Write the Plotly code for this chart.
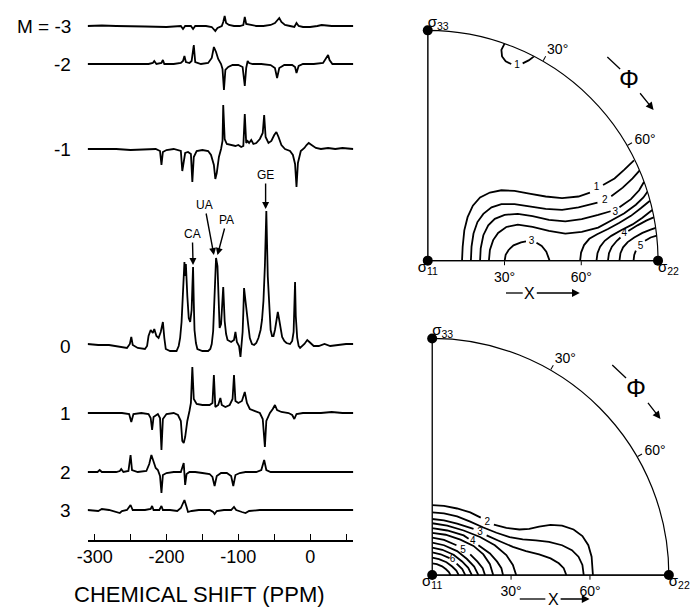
import math
import plotly.graph_objects as go

# ---------------- DATA ----------------
# Left panel: spectra for each M, vertices (chemical shift ppm, relative intensity)
M_labels = ["M = -3", "-2", "-1", "0", "1", "2", "3"]

spec_m3 = [(-310,0),(-290,0.5),(-270,0),(-250,0),(-230,-0.5),(-200,-1),(-180,0),(-177,-3),(-174,0),(-166,0),(-163,-3),(-160,0),
           (-145,0),(-137,-1),(-134,-4),(-132,-5),(-129,-2),(-123,0),(-121,4),(-119,10),(-117,3),(-113,1),(-106,0),(-98,0),(-93,1),
           (-91,9),(-89,2),(-83,1),(-75,0),(-65,0),(-55,1),(-49,3),(-46,6),(-43,8),(-40,4),(-35,1),(-28,0),(-22,-1),(-19,3),(-16,0),
           (-10,-1),(0,-1),(10,0),(16,1),(30,0),(45,0),(60,0)]
spec_m2 = [(-310,0),(-280,0),(-260,0),(-240,0.5),(-225,0),(-219,1),(-217,3),(-214,0),(-207,1),(-205,4),(-203,0),(-190,0),(-180,1),
           (-177,3),(-175,8),(-173,2),(-168,1),(-165,3),(-162,19),(-160,2),(-152,0),(-142,1),(-137,6),(-134,17),(-131,12),(-128,5),
           (-124,0),(-122,-5),(-120,-26),(-118,-6),(-114,-3),(-108,-1),(-100,-1),(-94,-3),(-91,-22),(-89,-4),(-87,3),(-85,1),(-80,0),
           (-68,0),(-55,-1),(-49,-4),(-46,-14),(-43,-4),(-36,-1),(-25,-1),(-21,-3),(-19,-9),(-16,-2),(-10,0),(5,0),(18,1),(22,5),
           (25,9),(27,4),(31,0),(45,0),(60,0)]
spec_m1 = [(-310,0),(-270,0),(-250,-1),(-230,0),(-215,0),(-209,-2),(-207,-16),(-205,-3),(-200,-1),(-190,0),(-180,-2),(-178,-22),
           (-176,-10),(-174,-4),(-170,-3),(-166,-5),(-164,-33),(-162,-8),(-158,-2),(-150,-1),(-142,-2),(-138,-6),(-134,-16),
           (-132,-30),(-130,-24),(-127,-8),(-124,0),(-122,8),(-121,44),(-119,10),(-116,5),(-110,4),(-104,3),(-100,4),(-96,2),
           (-93,3),(-91,35),(-89,6),(-87,8),(-85,6),(-82,9),(-79,5),(-75,6),(-70,10),(-66,16),(-64,34),(-62,12),(-58,6),(-54,8),
           (-50,14),(-47,17),(-44,12),(-40,4),(-35,0),(-28,-2),(-24,-6),(-21,-15),(-19,-38),(-17,-14),(-13,-2),(-8,1),(-5,4),
           (-2,6),(2,4),(8,1),(15,0),(25,1),(35,0),(45,1),(60,0)]
spec_0 = [(-310,2),(-295,1),(-280,1),(-265,-1),(-255,-2),(-251,2),(-249,9),(-247,1),(-240,-2),(-230,-3),(-227,0),(-225,10),
          (-222,16),(-219,13),(-217,17),(-214,10),(-211,8),(-208,14),(-205,24),(-203,8),(-201,-3),(-195,-5),(-186,-5),(-183,0),
          (-181,8),(-179,24),(-177,60),(-175,84),(-174,70),(-173,82),(-171,50),(-169,28),(-167,24),(-165,36),(-164,58),(-163,79),
          (-162,44),(-161,16),(-159,3),(-157,-3),(-150,-5),(-142,-5),(-139,-3),(-137,2),(-135,15),(-133,50),(-131,88),(-129,80),
          (-127,34),(-126,18),(-124,22),(-121,59),(-119,25),(-117,12),(-115,6),(-110,4),(-106,6),(-104,14),(-102,4),(-99,0),
          (-97,-11),(-95,4),(-94,14),(-93,34),(-92,58),(-90,45),(-88,35),(-86,20),(-84,8),(-81,2),(-78,1),(-75,3),(-72,8),
          (-69,16),(-67,26),(-65,45),(-63,80),(-61,135),(-59,70),(-57,34),(-55,16),(-53,10),(-51,10),(-49,16),(-47,26),
          (-46,31),(-45,34),(-43,26),(-41,16),(-39,9),(-36,5),(-33,3),(-28,2),(-25,5),(-23,14),(-22,40),(-21,64),(-20,30),
          (-18,8),(-16,0),(-14,-2),(-8,2),(-4,6),(-1,4),(5,0),(12,0),(20,2),(28,0),(40,1),(50,2),(60,2)]
spec_1 = [(-310,0),(-280,0),(-262,0),(-252,-1),(-249,-9),(-246,-1),(-235,0),(-225,-1),(-222,-5),(-220,-17),(-218,-4),(-212,-1),
          (-209,-5),(-207,-37),(-205,-6),(-200,-1),(-190,0),(-184,-2),(-180,-8),(-178,-28),(-176,-30),(-174,-24),(-171,-8),
          (-168,2),(-166,10),(-164,46),(-162,14),(-158,9),(-150,8),(-140,8),(-136,10),(-134,38),(-132,6),(-128,8),(-125,15),
          (-123,8),(-118,6),(-112,8),(-108,14),(-106,38),(-104,12),(-100,10),(-95,12),(-91,21),(-88,10),(-84,4),(-76,2),(-70,0),
          (-66,-6),(-63,-34),(-61,-8),(-56,0),(-52,4),(-49,8),(-46,3),(-40,1),(-30,0),(-25,-2),(-22,-6),(-19,-1),(-10,0),(0,0),
          (15,0),(30,1),(45,0),(60,0)]
spec_2 = [(-310,0),(-296,0),(-293,2),(-290,0),(-270,0),(-265,1),(-263,3),(-260,0),(-253,1),(-250,17),(-248,2),(-240,0),(-228,1),
          (-224,8),(-221,17),(-218,10),(-215,4),(-212,2),(-209,-4),(-207,-21),(-205,-3),(-200,-1),(-190,0),(-180,0),(-176,9),
          (-174,-13),(-172,-2),(-168,0),(-160,0),(-150,-1),(-140,-2),(-136,-5),(-133,-14),(-130,-4),(-124,-1),(-116,-1),(-110,-4),
          (-107,-14),(-104,-3),(-98,-1),(-90,0),(-75,0),(-68,2),(-64,12),(-61,2),(-55,0),(-40,0),(-20,0),(0,0),(20,0),(40,0),(60,0)]
spec_3 = [(-310,0),(-295,-1),(-290,1),(-280,0),(-265,-3),(-262,-1),(-255,0),(-250,5),(-247,0),(-240,0),(-230,0),(-222,1),
          (-220,4),(-218,0),(-210,0),(-207,4),(-205,0),(-195,0),(-185,-1),(-180,2),(-177,8),(-175,10),(-172,3),(-170,-2),
          (-165,-1),(-155,0),(-140,0),(-135,-2),(-133,-4),(-130,-1),(-120,0),(-110,0),(-106,3),(-103,0),(-95,-2),(-90,-3),
          (-85,-1),(-70,0),(-50,0),(-30,0),(0,0),(30,0),(60,0)]
spectra = [spec_m3, spec_m2, spec_m1, spec_0, spec_1, spec_2, spec_3]

shift_ticks = [-300, -200, -100, 0]
shift_tick_text = ["-300", "-200", "-100", "0"]
shift_minor = [-250, -150, -50, 50]
shift_title = "CHEMICAL SHIFT (PPM)"

# peak assignments on the M = 0 spectrum
peak_names = ["GE", "UA", "PA", "CA"]
peak_tip_ppm = [-62, -134, -129, -163]
peak_tip_int = [137, 91, 91, 81]
label_ppm = [-62, -147, -116, -164]
label_int = [171, 141, 126, 112]

# Right panels: contour lines, projected coordinates (degrees) u = chi*sin(phi), v = chi*cos(phi)
top_c1 = [(13.40,0.0),(13.65,5.45),(14.29,11.86),(15.57,16.99),(17.63,21.48),(20.45,24.68),(24.29,26.61),(28.78,27.50),
          (33.91,27.25),(39.68,26.22),(46.09,25.07),(52.50,24.43),(58.91,25.07),(63.39,26.61),None,(68.52,29.56),
          (73.01,32.12),(76.85,35.58),(80.60,39.20)]
top_c2 = [(16.86,0.0),(17.11,5.45),(17.88,10.58),(19.42,15.07),(21.73,18.27),(24.93,20.84),(28.78,22.12),(33.91,22.12),
          (39.68,21.22),(46.09,20.20),(52.50,19.81),(58.91,20.84),(66.34,22.63),None,(71.73,25.20),(76.21,28.53),
          (80.06,32.12),(82.75,35.20)]
top_c3 = [(20.45,0.0),(20.70,4.81),(21.73,9.94),(23.65,13.79),(26.21,16.35),(30.06,17.89),(35.19,18.27),(40.96,17.38),
          (47.37,15.97),(53.78,15.33),(60.19,16.22),(66.60,17.89),(71.47,19.30),None,(74.93,20.84),(79.42,24.04),
          (82.62,27.50),(84.55,30.84)]
top_c4 = [(23.91,0.0),(24.29,4.17),(25.57,8.02),(27.50,10.84),(30.70,13.15),(35.19,14.04),(40.96,13.15),(47.37,11.61),
          (53.78,10.58),(60.19,11.22),(66.60,12.89),(71.73,15.71),(76.85,18.53),(81.34,21.86),(84.29,24.68),(86.08,27.25)]
top_c5 = [(59.55,0.0),(59.93,3.15),(61.09,6.09),(63.14,8.53),(66.21,10.33),(70.44,12.38),(74.93,14.81),(79.42,17.50),
          (83.26,20.45),(86.85,23.40)]
top_c6 = [(65.96,0.0),(66.34,2.89),(67.37,5.45),(69.16,7.76),(71.73,9.68),(75.57,11.86),(80.06,14.17),(83.91,16.74),
          (87.75,19.81)]
top_c7 = [(70.44,0.0),(70.83,2.89),(71.98,5.45),(73.91,7.76),(75.32,9.04),None,(78.39,11.61),(81.98,13.79),(85.57,15.71),
          (88.52,16.99)]
top_c8 = [(74.93,0.0),(75.32,2.89),(76.34,5.20),(78.14,7.25),(80.70,9.04),(83.91,10.84),(87.11,12.12),(89.10,12.80)]
top_c9 = [(80.44,0.0),(80.70,2.25),(81.34,3.92),None,(84.93,7.76),(87.11,9.04),(89.50,9.80)]
top_dome = [(30.06,0.0),(30.45,2.25),(31.60,4.17),(33.52,5.97),(36.47,7.12),(38.39,7.50),None,(42.50,6.99),(44.55,5.71),
            (46.34,3.53),(47.62,0.0)]
top_hook = [(30.03,84.83),(28.78,82.37),(29.04,79.81),(30.45,77.88),(32.63,76.86),None,(37.11,77.11),(39.42,78.27),
            (41.56,79.83)]
top_lines = [top_c1, top_c2, top_c3, top_c4, top_c5, top_c6, top_c7, top_c8, top_c9, top_dome, top_hook]
top_label_text = ["1", "2", "3", "4", "5", "3", "1"]
top_label_pos = [(65.96,28.53),(69.16,23.66),(73.26,18.79),(76.85,10.58),(83.14,5.45),(40.57,7.38),(34.93,76.35)]

bot_c1 = [(0,26.57),(4.49,26.32),(9.48,25.32),(14.47,23.83),(18.47,21.83),None,(23.46,19.21),(28.20,17.96),(33.18,17.34),
          (36.93,17.59),(40.67,18.46),(45.03,19.08),(49.40,18.84),(53.77,17.34),(57.13,14.84),(59.38,11.35),(60.63,6.98),
          (61.13,0)]
bot_c2 = [(0,23.83),(4.49,23.45),(9.48,22.33),(14.47,20.33),(19.46,18.09),(24.45,16.09),(29.44,14.47),(34.43,13.60),
          (39.42,13.22),(44.41,12.60),(49.40,11.35),(53.14,9.48),(55.64,6.98),(57.13,3.86),(57.63,0)]
bot_c3 = [(0,21.33),(4.49,20.83),(9.48,19.58),(15.72,17.59),None,(20.71,15.09),(25.70,12.85),(30.69,10.73),(35.68,9.11),
          (40.67,7.86),(45.03,6.36),(48.15,4.49),(50.02,2.62),(51.02,0)]
bot_c4 = [(0,19.71),(5.74,18.84),(11.98,16.96),(18.22,14.47),(23.83,11.35),(28.20,7.61),(30.69,3.86),(31.94,0)]
bot_c5 = [(0,17.84),(5.74,16.96),(11.98,15.09),(13.85,13.85),None,(17.59,11.35),(21.96,8.23),(24.70,5.11),(26.32,2.62),
          (26.95,0)]
bot_c6 = [(0,16.09),(5.12,15.34),(10.73,13.47),(15.72,11.10),(19.46,7.86),(21.96,4.12),(23.21,0)]
bot_c7 = [(0,14.22),(4.49,13.35),(9.23,11.35),None,(14.47,7.86),(17.22,5.11),(19.21,2.62),(20.09,0)]
bot_c8 = [(0,12.35),(4.49,11.35),(9.48,9.11),(13.23,6.11),(15.97,3.24),(17.59,0)]
bot_c9 = [(0,10.48),(3.85,9.63),(8.14,7.73),(11.36,5.19),(13.71,2.75),(15.10,0)]
bot_c10 = [(0,8.61),(3.21,7.91),(6.60,6.45),None,(9.30,4.40),(11.44,2.26),(12.60,0)]
bot_c11 = [(0,6.61),(2.58,6.07),(5.45,4.88),(7.60,3.27),(9.18,1.73),(10.11,0)]
bot_c12 = [(0,4.49),(1.78,4.13),(3.77,3.31),(5.26,2.22),(6.35,1.18),(6.99,0)]
bot_lines = [bot_c1, bot_c2, bot_c3, bot_c4, bot_c5, bot_c6, bot_c7, bot_c8, bot_c9, bot_c10, bot_c11, bot_c12]
bot_label_text = ["2", "3", "4", "5", "6"]
bot_label_pos = [(20.96,19.83),(18.22,16.09),(15.47,12.60),(11.73,9.36),(7.74,5.99)]

angle_ticks = [30, 60]
angle_tick_text = ["30°", "60°"]

# ---------------- LAYOUT CONSTANTS ----------------
W, H = 690, 612
FONT = "Liberation Sans, Arial, Helvetica, sans-serif"
offsets = [514, 476, 391, 194, 127, 68, 30]


def fx(p):
    return p / W


def fy(p):
    return 1 - p / H


def to_polar(points):
    r, th = [], []
    for p in points:
        if p is None:
            r.append(None)
            th.append(None)
        else:
            u, v = p
            r.append(math.hypot(u, v))
            th.append(math.degrees(math.atan2(u, v)))
    return r, th


fig = go.Figure()

# spectra
for spec, off in zip(spectra, offsets):
    fig.add_trace(go.Scatter(
        x=[p[0] for p in spec], y=[off + p[1] for p in spec],
        mode="lines", line=dict(color="black", width=1.8),
        xaxis="x", yaxis="y", hoverinfo="skip"))

annotations = []
for lab, off in zip(M_labels, offsets):
    annotations.append(dict(text=lab, xref="paper", yref="y", x=fx(63), y=off, xanchor="right",
                            yanchor="middle", showarrow=False, font=dict(family=FONT, size=19, color="black")))

for name, tx, ti, lx, li in zip(peak_names, peak_tip_ppm, peak_tip_int, label_ppm, label_int):
    annotations.append(dict(text=name, x=tx, y=offsets[3] + ti, xref="x", yref="y",
                            ax=lx, ay=offsets[3] + li, axref="x", ayref="y",
                            showarrow=True, arrowhead=2, arrowsize=1, arrowwidth=1.4, arrowcolor="black",
                            standoff=0, font=dict(family=FONT, size=12, color="black")))

# axis title, placed as in the original (left of the axis centre)
annotations.append(dict(text=shift_title, xref="paper", yref="paper", x=fx(192), y=fy(594),
                        xanchor="center", yanchor="middle", showarrow=False,
                        font=dict(family=FONT, size=22, color="black")))


def add_panel(subplot, lines, label_text, label_pos):
    # left frame edge sigma11 -> sigma33
    fig.add_trace(go.Scatterpolar(r=[0, 90], theta=[0, 0], mode="lines",
                                  line=dict(color="black", width=1.2), subplot=subplot, hoverinfo="skip"))
    for ln in lines:
        r, th = to_polar(ln)
        fig.add_trace(go.Scatterpolar(r=r, theta=th, mode="lines",
                                      line=dict(color="black", width=1.8), subplot=subplot, hoverinfo="skip"))
    rr, tt = to_polar(label_pos)
    fig.add_trace(go.Scatterpolar(r=rr, theta=tt, mode="text", text=label_text,
                                  textfont=dict(family=FONT, size=10, color="black"),
                                  subplot=subplot, hoverinfo="skip"))
    fig.add_trace(go.Scatterpolar(r=[0, 90, 90], theta=[0, 0, 90], mode="markers",
                                  marker=dict(color="black", size=10), cliponaxis=False,
                                  subplot=subplot, hoverinfo="skip"))
    fig.add_trace(go.Scatterpolar(r=[0, 90, 90], theta=[0, 0, 90], mode="text",
                                  text=["σ<sub>11</sub>", "σ<sub>33</sub>", "σ<sub>22</sub>"],
                                  textposition=["bottom center", "top right", "bottom right"],
                                  textfont=dict(family=FONT, size=15, color="black"),
                                  cliponaxis=False, subplot=subplot, hoverinfo="skip"))


add_panel("polar", top_lines, top_label_text, top_label_pos)
add_panel("polar2", bot_lines, bot_label_text, bot_label_pos)


def polar_layout(xd, yd):
    tickfont = dict(family=FONT, size=14, color="black")
    return dict(
        domain=dict(x=xd, y=yd), sector=[0, 90], bgcolor="white", hole=0,
        angularaxis=dict(rotation=90, direction="clockwise", tickvals=angle_ticks, ticktext=angle_tick_text,
                         ticks="outside", ticklen=5, tickcolor="black", showgrid=False, showline=True,
                         linecolor="black", linewidth=1.2, tickfont=tickfont),
        radialaxis=dict(range=[0, 90], angle=0, tickvals=angle_ticks, ticktext=angle_tick_text, ticks="outside",
                        ticklen=4, tickcolor="black", showgrid=False, showline=True, linecolor="black",
                        linewidth=1.2, tickfont=tickfont, tickangle=0),
    )


shapes = []


def phi_marker(text_x, text_y, line_from, line_to, tip):
    # Φ with a lead-in stroke and an arrow running from the symbol towards increasing phi
    shapes.append(dict(type="line", xref="paper", yref="paper", x0=fx(line_from[0]), y0=fy(line_from[1]),
                       x1=fx(line_to[0]), y1=fy(line_to[1]), line=dict(color="black", width=1.3)))
    annotations.append(dict(text="Φ", xref="paper", yref="paper", x=fx(tip[0]), y=fy(tip[1]),
                            ax=text_x - tip[0], ay=text_y - tip[1], showarrow=True, arrowhead=2,
                            arrowsize=1.2, arrowwidth=1.3, arrowcolor="black", standoff=0,
                            font=dict(family=FONT, size=25, color="black")))


def chi_marker(text_x, text_y, line_from, tip):
    shapes.append(dict(type="line", xref="paper", yref="paper", x0=fx(line_from[0]), y0=fy(text_y),
                       x1=fx(line_from[1]), y1=fy(text_y), line=dict(color="black", width=1.3)))
    annotations.append(dict(text="X", xref="paper", yref="paper", x=fx(tip), y=fy(text_y),
                            ax=text_x - tip, ay=0, showarrow=True, arrowhead=2,
                            arrowsize=1.2, arrowwidth=1.3, arrowcolor="black", standoff=0,
                            font=dict(family=FONT, size=16, color="black")))


phi_marker(628, 79, (606, 57), (619, 69), (653, 110))
phi_marker(636, 388, (611, 365), (625, 378), (660, 419))
chi_marker(528, 293, (503, 520), 578)
chi_marker(552, 599, (517, 543), 588)

fig.update_layout(
    width=W, height=H, margin=dict(l=0, r=0, t=0, b=0), autosize=False,
    paper_bgcolor="white", plot_bgcolor="white", showlegend=False,
    xaxis=dict(domain=[fx(78), fx(348)], range=[-309.6, 60.3], anchor="y",
               showline=True, linecolor="black", linewidth=1.6, mirror=False,
               ticks="inside", ticklen=6, tickwidth=1.4, tickcolor="black",
               tickvals=shift_ticks, ticktext=shift_tick_text,
               minor=dict(tickvals=shift_minor, ticks="inside", ticklen=6, tickwidth=1.4, tickcolor="black"),
               tickfont=dict(family=FONT, size=18, color="black"),
               showgrid=False, zeroline=False),
    yaxis=dict(domain=[fy(540), 1], range=[0, 540], visible=False, anchor="x"),
    polar=polar_layout([fx(423.5), fx(657.5)], [fy(262.5), fy(28.5)]),
    polar2=polar_layout([fx(428), fx(668.5)], [fy(577), fy(336.5)]),
    annotations=annotations, shapes=shapes,
)

fig.write_html("out.html")
